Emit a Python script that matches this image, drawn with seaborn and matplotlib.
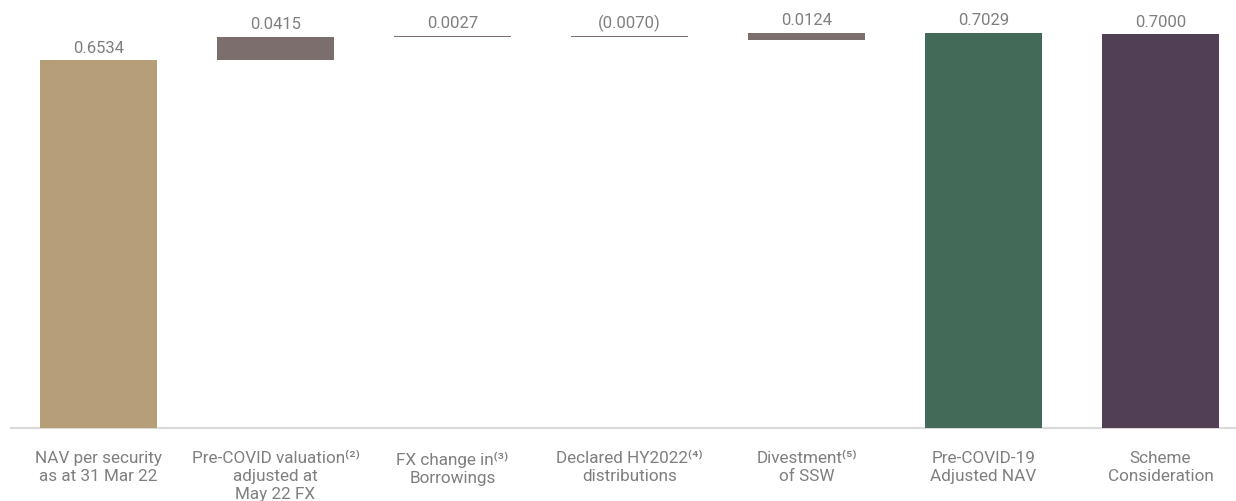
import pandas as pd
import seaborn as sns
from matplotlib import pyplot as plt

# 数据
labels = ['NAV per security\nas at 31 Mar 22',
          'Pre-COVID valuation⁽²⁾\nadjusted at\nMay 22 FX',
          'FX change in⁽³⁾\nBorrowings',
          'Declared HY2022⁽⁴⁾\ndistributions',
          'Divestment⁽⁵⁾\nof SSW',
          'Pre-COVID-19\nAdjusted NAV',
          'Scheme\nConsideration']
value_text = ['0.6534', '0.0415', '0.0027', '(0.0070)', '0.0124', '0.7029', '0.7000']
# 画出来的柱子: 起点和高度
bar_base = [0, 0.6534, 0.6949, 0.6958, 0.6906, 0, 0]
bar_height = [0.6534, 0.0415, 0.0027, 0.0018, 0.0124, 0.7029, 0.7000]
bar_colors = ['#B59E78', '#7B6E6D', '#7B6E6D', '#7B6E6D', '#7B6E6D', '#436A58', '#503F55']
# 分红那一项底部的橙色细条
dist_base = -0.0042
dist_height = 0.0024

df = pd.DataFrame({'label': labels, 'base': bar_base, 'height': bar_height})

sns.set_style('white')
plt.rcParams['font.family'] = ['Roboto', 'DejaVu Sans']

fig = plt.figure(figsize=(12.36, 5.02), dpi=100)
ax = fig.add_axes([10 / 1236, (502 - 434) / 502, 1226 / 1236, 432 / 502])

sns.barplot(data=df, x='label', y='height', bottom=df['base'], width=0.661,
            color='#7B6E6D', errorbar=None, saturation=1, ax=ax, zorder=2)
for p, c in zip(ax.patches, bar_colors):
    p.set_facecolor(c)
    p.set_edgecolor('none')

ax.bar(3, dist_height, bottom=dist_base, width=0.661, color='#F0A05E', zorder=3)
ax.axhline(0, color='#DADADA', linewidth=1.5, zorder=1)

for i, txt in enumerate(value_text):
    top = bar_base[i] + bar_height[i]
    ax.annotate(txt, (i, top), xytext=(0, 9.5), textcoords='offset points',
                ha='center', va='center', fontsize=12, color='#7F7F7F')

ax.set_xlim(-0.5, 6.4266)
ax.set_ylim(-0.0080, 0.7590)
ax.set_xlabel('')
ax.set_ylabel('')
ax.set_yticks([])
ax.set_xticks(range(len(labels)))
ax.set_xticklabels(labels, fontsize=12.3, color='#7F7F7F', linespacing=1.25)
ax.tick_params(axis='x', length=0, pad=12.5)
sns.despine(left=True, bottom=True)

plt.savefig('out.png', dpi=100)
